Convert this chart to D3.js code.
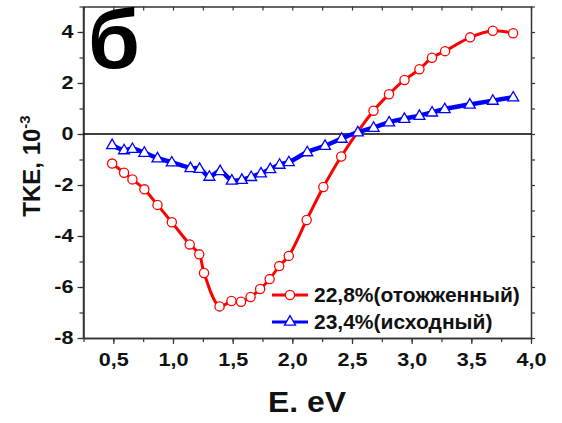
<!DOCTYPE html>
<html><head><meta charset="utf-8">
<script src="https://cdn.jsdelivr.net/npm/d3@7"></script>
<style>body{margin:0;background:#fff}svg{display:block}text{font-family:"Liberation Sans",Arial,sans-serif;font-weight:bold}</style>
</head><body><svg id="c" width="562" height="423"></svg>
<script>
const redX = [0.49,0.59,0.66,0.76,0.87,0.99,1.14,1.22,1.26,1.39,1.49,1.57,1.65,1.73,1.81,1.89,1.97,2.12,2.26,2.41,2.68,2.81,2.94,3.065,3.17,3.28,3.49,3.68,3.85];
const redY = [-1.16,-1.52,-1.78,-2.17,-2.78,-3.46,-4.33,-4.72,-5.45,-6.76,-6.55,-6.58,-6.39,-6.08,-5.69,-5.18,-4.78,-3.37,-2.08,-0.88,0.91,1.56,2.12,2.54,2.99,3.25,3.79,4.05,3.95];
const blueX = [0.49,0.59,0.66,0.76,0.87,0.99,1.146,1.223,1.305,1.395,1.493,1.577,1.655,1.737,1.815,1.893,1.971,2.125,2.274,2.413,2.549,2.681,2.811,2.939,3.065,3.171,3.277,3.487,3.68,3.851];
const blueY = [-0.43,-0.63,-0.58,-0.73,-0.95,-1.11,-1.33,-1.36,-1.67,-1.45,-1.82,-1.79,-1.68,-1.54,-1.37,-1.2,-1.1,-0.71,-0.46,-0.18,0.07,0.25,0.46,0.6,0.72,0.85,0.98,1.16,1.31,1.44];
const xTicks = [0.5,1.0,1.5,2.0,2.5,3.0,3.5,4.0];
const yTicks = [-8,-6,-4,-2,0,2,4];
const seriesNames = ["22,8%(отожженный)","23,4%(исходный)"];

const svg = d3.select("#c");
const L=83.5,R=531,T=6.5,B=338;
const x = d3.scaleLinear().domain([0.25,4.0]).range([L,R]);
const y = d3.scaleLinear().domain([-8,5]).range([B,T]);
const fmt = d => d3.format(".1f")(d).replace(".",",");
const minorX = d3.range(0.25,4.01,0.25);
const minorY = d3.range(-8,5.01,1);
function stretch(sel,f){sel.each(function(){const w=this.getComputedTextLength();d3.select(this).attr("textLength",w*f).attr("lengthAdjust","spacingAndGlyphs");});}

function styleAxis(g){g.selectAll("path").attr("stroke","#333").attr("stroke-width",1.5);g.selectAll("line").attr("stroke","#333").attr("stroke-width",1.2);}
// bottom
svg.append("g").attr("transform",`translate(0,${B})`).call(d3.axisBottom(x).tickValues(minorX).tickSize(4).tickFormat("").tickSizeOuter(0)).call(styleAxis);
const bx=svg.append("g").attr("transform",`translate(0,${B})`).call(d3.axisBottom(x).tickValues(xTicks).tickSize(6).tickFormat(fmt).tickPadding(9).tickSizeOuter(0)).call(styleAxis);
bx.selectAll("text").attr("font-size",18).attr("fill","#111").attr("font-family","Liberation Sans,Arial").attr("font-weight","bold").call(stretch,1.2);
// top
svg.append("g").attr("transform",`translate(0,${T})`).call(d3.axisBottom(x).tickValues(minorX).tickSize(4).tickFormat("").tickSizeOuter(0)).call(styleAxis);
// left
svg.append("g").attr("transform",`translate(${L},0)`).call(d3.axisLeft(y).tickValues(minorY).tickSize(4).tickFormat("").tickSizeOuter(0)).call(styleAxis);
const ly=svg.append("g").attr("transform",`translate(${L},0)`).call(d3.axisLeft(y).tickValues(yTicks).tickSize(6).tickFormat(d3.format("d")).tickPadding(4).tickSizeOuter(0)).call(styleAxis);
ly.selectAll("text").attr("font-size",18).attr("fill","#111").attr("font-family","Liberation Sans,Arial").attr("font-weight","bold").text(d=>String(d)).call(stretch,1.2);
// right
svg.append("g").attr("transform",`translate(${R},0)`).call(d3.axisLeft(y).tickValues(minorY).tickSize(-4).tickFormat("").tickSizeOuter(0)).call(styleAxis);
ly.select(".domain").remove();
svg.append("line").attr("x1",L).attr("x2",L).attr("y1",T).attr("y2",B).attr("stroke","#333").attr("stroke-width",1.5);
// zero line
svg.append("line").attr("x1",L).attr("x2",R).attr("y1",y(0)).attr("y2",y(0)).attr("stroke","#000").attr("stroke-width",1.6);

const red = redX.map((v,i)=>[v,redY[i]]);
const blue = blueX.map((v,i)=>[v,blueY[i]]);
const line = d3.line().x(d=>x(d[0])).y(d=>y(d[1])).curve(d3.curveCatmullRom.alpha(0.5));
svg.append("path").attr("d",line(red)).attr("fill","none").attr("stroke","#ff0000").attr("stroke-width",3);
svg.selectAll("circle.r").data(red).enter().append("circle").attr("cx",d=>x(d[0])).attr("cy",d=>y(d[1])).attr("r",4.6).attr("fill","#fff").attr("stroke","#ff0000").attr("stroke-width",1.3);
svg.append("path").attr("d",line(blue)).attr("fill","none").attr("stroke","#0000ff").attr("stroke-width",4.5);
const tri = d3.symbol().type(d3.symbolTriangle).size(52);
svg.selectAll("path.b").data(blue).enter().append("path").attr("d",tri).attr("transform",d=>`translate(${x(d[0])},${y(d[1])+0.5})`).attr("fill","#fff").attr("stroke","#0000ff").attr("stroke-width",1.3);

// legend
const lg = svg.append("g");
lg.append("line").attr("x1",272).attr("x2",308).attr("y1",295).attr("y2",295).attr("stroke","#ff0000").attr("stroke-width",3);
lg.append("circle").attr("cx",290).attr("cy",295).attr("r",4.6).attr("fill","#fff").attr("stroke","#ff0000").attr("stroke-width",1.3);
lg.append("text").attr("x",314).attr("y",302).attr("font-size",21).attr("fill","#111").text(seriesNames[0]);
lg.append("line").attr("x1",272).attr("x2",308).attr("y1",322).attr("y2",322).attr("stroke","#0000ff").attr("stroke-width",3);
lg.append("path").attr("d",tri).attr("transform","translate(290,322)").attr("fill","#fff").attr("stroke","#0000ff").attr("stroke-width",1.3);
lg.append("text").attr("x",314).attr("y",329).attr("font-size",21).attr("fill","#111").text(seriesNames[1]);

// axis titles
svg.append("text").attr("x",307).attr("y",412).attr("text-anchor","middle").attr("font-size",29).attr("fill","#111").text("E. eV").call(stretch,1.1);
const yt = svg.append("text").attr("transform","translate(40,166) rotate(-90)").attr("text-anchor","middle").attr("font-size",24).attr("fill","#111");
yt.append("tspan").text("TKE, 10");
yt.append("tspan").attr("dy",-10).attr("font-size",15).text("-3");
// panel letter
svg.append("text").attr("x",88).attr("y",68).attr("font-size",84).attr("fill","#000").text("б");
</script></body></html>
